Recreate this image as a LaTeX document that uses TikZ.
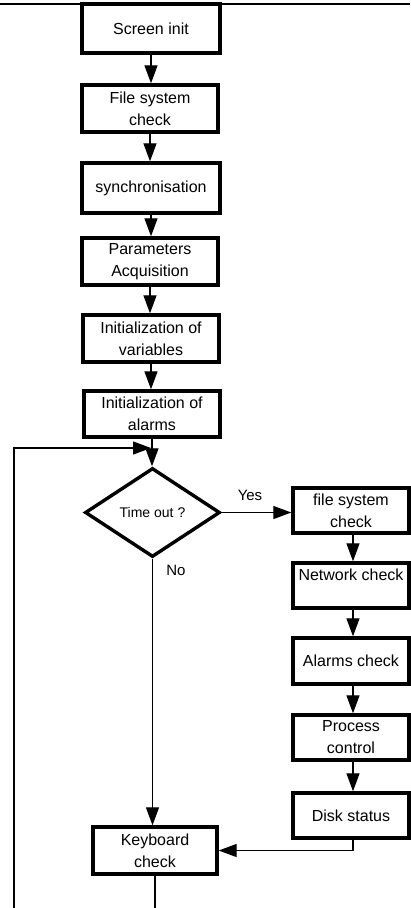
\documentclass[tikz,border=0pt]{standalone}
\usepackage{fontspec}
\setmainfont{Liberation Sans}
\usetikzlibrary{arrows.meta,shapes.geometric}
\begin{document}
\begin{tikzpicture}[x=1pt,y=-1pt,
  every node/.style={font=\fontsize{16}{22}\selectfont},
  stepbox/.style={draw, line width=3.4pt, align=center, inner sep=0pt,
    minimum width=136pt, minimum height=47pt},
  sidebox/.style={stepbox, minimum width=116pt, minimum height=45pt},
  decision/.style={diamond, draw, line width=3.4pt, inner sep=0pt, aspect=1.5,
    minimum width=135pt, minimum height=89pt, font=\fontsize{14}{16}\selectfont},
  link/.style={line width=1.3pt},
  flow/.style={link, -{Triangle[length=18pt,width=13pt]}},
  lbl/.style={font=\fontsize{15}{18}\selectfont}]
\useasboundingbox (0,0) rectangle (410,908);

% frame rule along the top
\draw[line width=2.4pt] (0,4) -- (410,4);

% initialisation sequence
\node[stepbox, minimum width=138pt, minimum height=49pt] (scr) at (151,28.5) {Screen init};
\node[stepbox] (fsc) at (150,108.5) {File system\\check};
\node[stepbox, minimum width=138pt, minimum height=50pt] (sync) at (151,188) {synchronisation};
\node[stepbox] (par) at (150,261.5) {Parameters\\Acquisition};
\node[stepbox] (ivar) at (151,338.5) {Initialization of\\variables};
\node[stepbox, minimum height=46pt] (ialm) at (152,414) {Initialization of\\alarms};

% main loop decision
\node[decision] (tmo) at (152.5,512.5) {Time out ?};

% periodic checks
\node[sidebox] (rfs) at (351,510.5) {file system\\check};
\node[sidebox] (net) at (351,585.5) {Network check\\\mbox{}};
\node[sidebox, minimum height=46pt] (alm) at (351,661) {Alarms check};
\node[sidebox] (prc) at (351,737.5) {Process\\control};
\node[sidebox] (dsk) at (351,815.5) {Disk status};

\node[stepbox, minimum width=124pt] (kbd) at (155,850.5) {Keyboard\\check};

% branch labels
\node[lbl] (yes) at (250,495) {Yes};
\node[lbl] (no) at (176,570) {No};

% loop-back coordinates
\coordinate (kbdout) at (155,912);
\coordinate (loopin) at (14,912);
\coordinate (merge) at (151,448);

% connectors
\draw[flow] (scr.south) -- (scr.south |- fsc.north);
\draw[flow] (fsc.south) -- (fsc.south |- sync.north);
\draw[flow] (sync.south) -- (sync.south |- par.north);
\draw[flow] (par.south) -- (par.south |- ivar.north);
\draw[flow] (ivar.south) -- (ivar.south |- ialm.north);
\draw[flow] (ialm.south) -- (ialm.south |- tmo.north);
\draw[flow] (tmo.east) -- (tmo.east -| rfs.west);
\draw[flow] (tmo.south) -- (tmo.south |- kbd.north);
\draw[flow] ([xshift=2pt]rfs.south) -- ([xshift=2pt]rfs.south |- net.north);
\draw[flow] ([xshift=2pt]net.south) -- ([xshift=2pt]net.south |- alm.north);
\draw[flow] ([xshift=2pt]alm.south) -- ([xshift=2pt]alm.south |- prc.north);
\draw[flow] ([xshift=2pt]prc.south) -- ([xshift=2pt]prc.south |- dsk.north);
\draw[flow] ([xshift=2pt]dsk.south) |- (kbd.east);
\draw[link] (kbd.south) -- (kbdout);
\draw[flow] (loopin) |- (merge);
\end{tikzpicture}
\end{document}
